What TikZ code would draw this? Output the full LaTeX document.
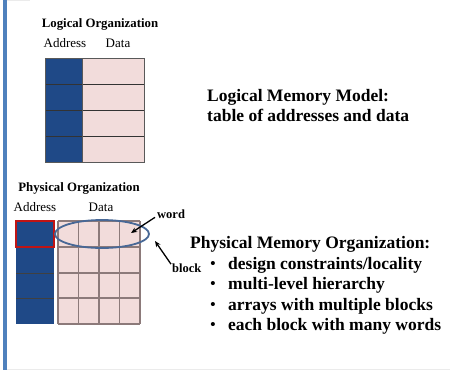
\documentclass[tikz,border=0pt]{standalone}
\usepackage{fontspec}
\setmainfont{Liberation Serif}
\usetikzlibrary{arrows.meta}

\definecolor{addrblue}{RGB}{31,73,135}
\definecolor{datapink}{RGB}{242,220,219}
\definecolor{barblue}{RGB}{79,129,189}
\definecolor{gridbrown}{RGB}{140,122,122}
\definecolor{ovalblue}{RGB}{72,104,150}
\definecolor{redbox}{RGB}{192,20,20}

\tikzset{
  smalltitle/.style={inner sep=0pt, anchor=base, font=\fontsize{12.8}{14}\selectfont\bfseries},
  colhead/.style={inner sep=0pt, anchor=base, font=\fontsize{13}{15}\selectfont},
  bigtext/.style={inner sep=0pt, anchor=base west, font=\fontsize{17.5}{20}\selectfont\bfseries},
  bulletmark/.style={inner sep=0pt, anchor=base, font=\fontsize{15}{17}\selectfont\bfseries},
  calllabel/.style={inner sep=0pt, anchor=base west, font=\fontsize{12.5}{14}\selectfont\bfseries},
  callarrow/.style={-{Stealth[length=6pt,width=5pt]}, line width=1.3pt, black},
}

\begin{document}
\begin{tikzpicture}[x=1pt,y=-1pt]
\useasboundingbox (0,0) rectangle (450,370);
\fill[white] (0,0) rectangle (450,370);

% slide frame: accent bar on the left, faint rule at the bottom
\fill[barblue] (3,0) rectangle (7,370);
\draw[black!8, line width=0.8pt] (7,369) -- (450,369);
\draw[black!8, line width=0.8pt] (7,0.5) -- (30,0.5);

% ---------- logical organization ----------
\node[smalltitle] (ltitle) at (100,27) {Logical Organization};
\node[colhead] (laddr) at (65,47) {Address};
\node[colhead] (ldata) at (118,47) {Data};

\fill[addrblue] (45,58) rectangle (82,162);
\fill[datapink] (82,58) rectangle (144,162);
\foreach \yy in {84,110,136}
  \draw[black!80, line width=0.9pt] (45,\yy) -- (144,\yy);
\draw[black!65, line width=0.9pt] (45,58) rectangle (144,162);
\draw[black!65, line width=0.6pt] (82,58) -- (82,162);

% ---------- physical organization ----------
\node[smalltitle] (ptitle) at (79,191) {Physical Organization};
\node[colhead] (paddr) at (35,211) {Address};
\node[colhead] (pdata) at (101,211) {Data};

% address column
\fill[addrblue] (16,221) rectangle (54,324);
\foreach \yy in {273,298}
  \draw[black!75, line width=1pt] (16,\yy) -- (54,\yy);

% data array: 4 x 4 words
\fill[datapink] (58,221) rectangle (140,324);
\foreach \xx in {58,78.5,99,119.5,140}
  \draw[gridbrown, line width=1.8pt] (\xx,221) -- (\xx,324);
\foreach \yy in {221,247,273,298,324}
  \draw[gridbrown, line width=1.8pt] (58,\yy) -- (140,\yy);

% highlighted address entry
\draw[redbox, line width=1.4pt] (16,221) rectangle (54,247);

% block outline
\draw[ovalblue, line width=1.8pt] (102,234) ellipse [x radius=47, y radius=14];

% callouts
\node[calllabel] (word) at (157,218) {word};
\coordinate (wordtip) at (131,233);
\draw[callarrow] ([xshift=-2pt,yshift=1pt]word.south west) -- (wordtip);

\node[calllabel] (block) at (172,272) {block};
\coordinate (blocktip) at (155,241);
\draw[callarrow] ([xshift=-1pt,yshift=-1pt]block.north west) -- (blocktip);

% ---------- descriptions ----------
\node[bigtext] (lm1) at (207,101) {Logical Memory Model:};
\node[bigtext] (lm2) at (207,121) {table of addresses and data};

\node[bigtext] (pm) at (190,248) {Physical Memory Organization:};
\foreach \i/\yy/\txt in {1/269/{design constraints/locality},
                         2/289/{multi-level hierarchy},
                         3/310/{arrays with multiple blocks},
                         4/330/{each block with many words}}{
  \node[bulletmark] (bul\i) at (213,\yy-1) {\textbullet};
  \node[bigtext] (item\i) at (228,\yy) {\txt};
}
\end{tikzpicture}
\end{document}
